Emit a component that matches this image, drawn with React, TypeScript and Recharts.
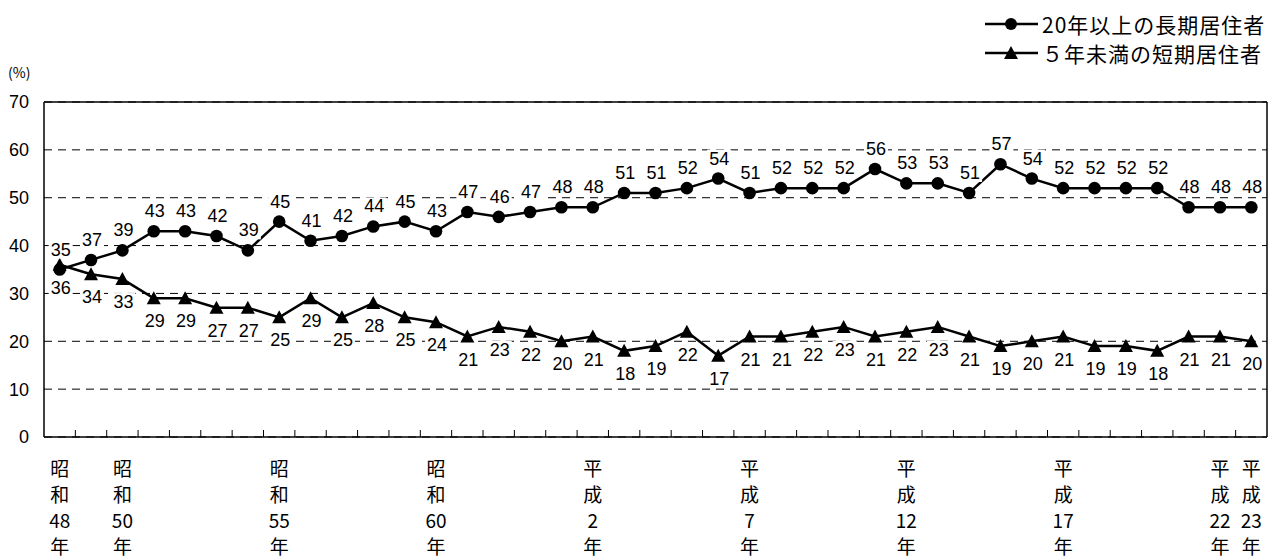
import React from 'react';
import { LineChart, Line, XAxis, YAxis, CartesianGrid, ReferenceLine, LabelList } from 'recharts';

const years = [
  '昭和48年', '昭和49年', '昭和50年', '昭和51年', '昭和52年', '昭和53年', '昭和54年', '昭和55年',
  '昭和56年', '昭和57年', '昭和58年', '昭和59年', '昭和60年', '昭和61年', '昭和62年', '昭和63年',
  '平成元年', '平成2年', '平成3年', '平成4年', '平成5年', '平成6年', '平成7年', '平成8年',
  '平成9年', '平成10年', '平成11年', '平成12年', '平成13年', '平成14年', '平成15年', '平成16年',
  '平成17年', '平成18年', '平成19年', '平成20年', '平成21年', '平成22年', '平成23年',
];
const longTerm = [35, 37, 39, 43, 43, 42, 39, 45, 41, 42, 44, 45, 43, 47, 46, 47, 48, 48, 51, 51, 52, 54, 51, 52, 52, 52, 56, 53, 53, 51, 57, 54, 52, 52, 52, 52, 48, 48, 48];
const shortTerm = [36, 34, 33, 29, 29, 27, 27, 25, 29, 25, 28, 25, 24, 21, 23, 22, 20, 21, 18, 19, 22, 17, 21, 21, 22, 23, 21, 22, 23, 21, 19, 20, 21, 19, 19, 18, 21, 21, 20];
const labelledYears = [0, 2, 7, 12, 17, 22, 27, 32, 37, 38];
const yTicks = [0, 10, 20, 30, 40, 50, 60, 70];
const seriesNames = ['20年以上の長期居住者', '５年未満の短期居住者'];

const data = years.map((year, i) => ({ i, year, long: longTerm[i], short: shortTerm[i] }));

// boundaries between categories get the small inside tick marks
const boundaries = years.slice(1).map((_, i) => i + 0.5);
const xTicks = [...labelledYears, ...boundaries].sort((a, b) => a - b);

const cjk = '"Noto Sans CJK JP", sans-serif';
const num = '"Liberation Sans", Arial, sans-serif';

const splitLabel = (s: string) => {
  const m = s.match(/^(..)(.+)(年)$/);
  if (!m) return [s];
  return [m[1][0], m[1][1], m[2], m[3]];
};

const XTick = (props: any) => {
  const { x, y, payload } = props;
  const v = payload.value;
  if (!Number.isInteger(v)) {
    return <line x1={x} x2={x} y1={y - 7} y2={y} stroke="#000" strokeWidth={1} />;
  }
  const lines = splitLabel(years[v]);
  return (
    <g>
      {lines.map((t, k) => (
        <text
          key={k}
          x={x}
          y={y + 30 + k * 26}
          textAnchor="middle"
          dominantBaseline="central"
          fontFamily={cjk}
          fontSize={19}
          fill="#000"
        >
          {t}
        </text>
      ))}
    </g>
  );
};

const Circle = (props: any) => {
  const { cx, cy, index } = props;
  return <circle key={`c${index}`} cx={cx} cy={cy} r={6.3} fill="#000" />;
};

const Triangle = (props: any) => {
  const { cx, cy, index } = props;
  return (
    <polygon
      key={`t${index}`}
      points={`${cx},${cy - 7} ${cx - 7},${cy + 6} ${cx + 7},${cy + 6}`}
      fill="#000"
    />
  );
};

const makeLabel = (dy: number) => (props: any) => {
  const { x, y, value, index } = props;
  const cx = x + 1;
  const cy = y + dy;
  return (
    <g key={`l${dy}-${index}`}>
      <rect x={cx - 12} y={cy - 9} width={24} height={18} fill="#fff" />
      <text x={cx} y={cy} textAnchor="middle" dominantBaseline="central" fontFamily={num} fontSize={18} fill="#000">
        {value}
      </text>
    </g>
  );
};

const LegendBox = () => (
  <svg width={300} height={70} style={{ position: 'absolute', left: 975, top: 0 }}>
    {seriesNames.map((name, k) => {
      const y = 24 + k * 29;
      return (
        <g key={name}>
          <line x1={10} x2={63} y1={y} y2={y} stroke="#000" strokeWidth={2.5} />
          {k === 0 ? (
            <circle cx={36} cy={y} r={6} fill="#000" />
          ) : (
            <polygon points={`36,${y - 7} 29,${y + 6} 43,${y + 6}`} fill="#000" />
          )}
          <text x={67} y={y} dominantBaseline="central" fontFamily={cjk} fontSize={21} letterSpacing={1} fill="#000">
            {name}
          </text>
        </g>
      );
    })}
  </svg>
);

export default function App() {
  return (
    <div style={{ position: 'absolute', left: 0, top: 0, width: 1271, height: 559, background: '#fff' }}>
      <LineChart width={1271} height={559} data={data} margin={{ top: 102, right: 4, left: 4, bottom: 0 }}>
        <CartesianGrid vertical={false} stroke="#000" strokeDasharray="8 6" strokeWidth={1} />
        <XAxis
          dataKey="i"
          type="number"
          domain={[-0.5, 38.5]}
          ticks={xTicks}
          interval={0}
          height={122}
          tickSize={0}
          tickMargin={0}
          tickLine={false}
          axisLine={{ stroke: '#000', strokeWidth: 1.5 }}
          tick={<XTick />}
        />
        <YAxis
          domain={[0, 70]}
          ticks={yTicks}
          width={40}
          tickSize={0}
          tickMargin={15}
          tickLine={false}
          axisLine={{ stroke: '#000', strokeWidth: 1.5 }}
          tick={{ fill: '#000', fontSize: 18, fontFamily: num }}
        />
        <ReferenceLine y={70} stroke="#000" strokeWidth={1.5} />
        <ReferenceLine x={38.5} stroke="#000" strokeWidth={1.5} />
        <Line dataKey="short" stroke="#000" strokeWidth={2.5} dot={Triangle} activeDot={false} isAnimationActive={false}>
          <LabelList dataKey="short" content={makeLabel(23)} />
        </Line>
        <Line dataKey="long" stroke="#000" strokeWidth={2.5} dot={Circle} activeDot={false} isAnimationActive={false}>
          <LabelList dataKey="long" content={makeLabel(-20)} />
        </Line>
      </LineChart>
      <div style={{ position: 'absolute', left: 8, top: 62, fontFamily: cjk, fontSize: 14 }}>(%)</div>
      <LegendBox />
    </div>
  );
}
